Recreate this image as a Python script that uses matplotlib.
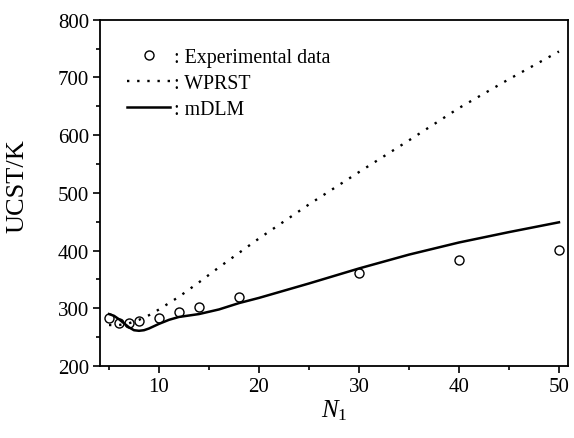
import matplotlib
matplotlib.use("Agg")
import matplotlib.pyplot as plt
from matplotlib.ticker import MultipleLocator

plt.rcParams['font.family'] = ['Liberation Serif', 'DejaVu Serif']
plt.rcParams['mathtext.fontset'] = 'custom'
plt.rcParams['mathtext.it'] = 'Liberation Serif:italic'
plt.rcParams['mathtext.rm'] = 'Liberation Serif'

# Experimental data
exp_n = [5, 6, 7, 8, 10, 12, 14, 18, 30, 40, 50]
exp_ucst = [284, 274, 274, 278, 284, 294, 303, 320, 362, 384, 401]

# WPRST prediction
wprst_n = [5, 6, 7, 8, 9, 10, 12, 14, 16, 18, 20, 25, 30, 35, 40, 45, 50]
wprst_ucst = [271, 271, 274, 280, 288, 298, 320, 345, 371, 396, 421, 480, 536, 591, 647, 697, 745]

# mDLM prediction
mdlm_n = [5, 5.5, 6, 6.5, 7, 7.5, 8, 8.5, 9, 10, 11, 12, 14, 16, 18, 20, 22, 25, 30, 35, 40, 45, 50]
mdlm_ucst = [290, 287, 281, 274, 267, 262, 261, 262, 265, 273, 280, 285, 290, 298, 309, 318, 328, 343, 369, 393, 414, 432, 449]

fig = plt.figure(figsize=(5.74, 4.39), dpi=100)
ax = fig.add_axes([0.1742, 0.164, 0.8153, 0.7888])

ax.plot(exp_n, exp_ucst, linestyle='none', marker='o', ms=6.5, mfc='white',
        mec='black', mew=1.0, label=': Experimental data')
ax.plot(wprst_n, wprst_ucst, color='black', lw=1.7, linestyle=(0, (1, 3.3)),
        label=': WPRST')
ax.plot(mdlm_n, mdlm_ucst, color='black', lw=1.8, label=': mDLM')

ax.set_xlim(4.1, 50.9)
ax.set_ylim(200, 800)
ax.xaxis.set_major_locator(MultipleLocator(10))
ax.xaxis.set_minor_locator(MultipleLocator(5))
ax.yaxis.set_major_locator(MultipleLocator(100))
ax.yaxis.set_minor_locator(MultipleLocator(50))
ax.tick_params(which='major', direction='out', length=5, width=1.2, labelsize=15, pad=3)
ax.tick_params(which='minor', direction='out', length=3, width=1.2)
for s in ax.spines.values():
    s.set_linewidth(1.3)

ax.set_xlabel(r'$N_{\rm 1}$', fontsize=18, labelpad=1)
ax.set_ylabel('UCST/K', fontsize=19)
ax.yaxis.set_label_coords(-0.152, 0.523)

ax.legend(loc='upper left', bbox_to_anchor=(0.04, 0.94), frameon=False,
          fontsize=14.3, handlelength=2.2, handletextpad=0.2, labelspacing=0.35,
          numpoints=1, borderaxespad=0)

fig.savefig('out.png', dpi=100)
